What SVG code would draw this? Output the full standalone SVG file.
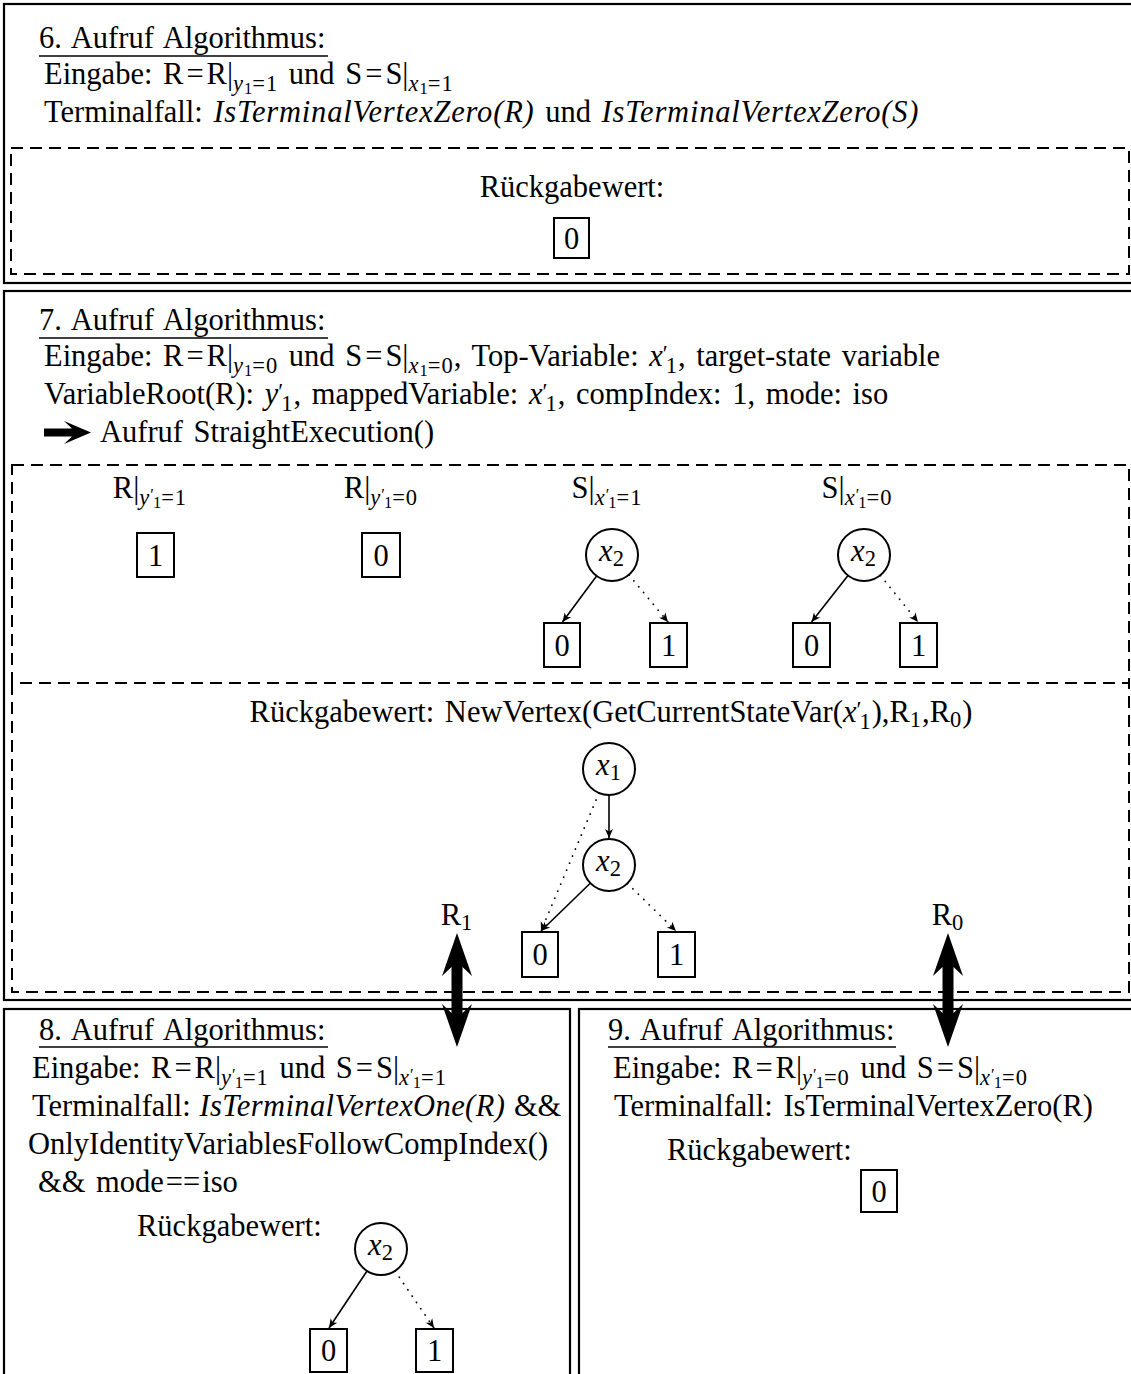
<svg xmlns="http://www.w3.org/2000/svg" width="1131" height="1374" viewBox="0 0 1131 1374">
  <style>
    .t { font-family: "Liberation Serif", "Times New Roman", serif; font-size: 30.5px; word-spacing: 3px; fill: #000; }
    .i { font-style: italic; }
    .il { font-style: italic; letter-spacing: 0.8px; }
    .s { font-size: 22.5px; letter-spacing: 1px; }
    .ss { font-size: 16.5px; }
    .frame { fill: none; stroke: #000; stroke-width: 2.2; }
    .dash { fill: none; stroke: #000; stroke-width: 2; stroke-dasharray: 12 7; }
    .vx { fill: #fff; stroke: #000; stroke-width: 2; }
    .term { fill: #fff; stroke: #000; stroke-width: 2; }
    .ul { stroke: #000; stroke-width: 1.6; }
    .hi { fill: none; stroke: #000; stroke-width: 1.6; marker-end: url(#ah); }
    .lo { fill: none; stroke: #000; stroke-width: 1.8; stroke-dasharray: 0.1 7.5; stroke-linecap: round; marker-end: url(#ah); }
    .big { fill: #000; stroke: none; }
  </style>
  <defs>
    <marker id="ah" viewBox="-10 -5 12 10" refX="0" refY="0" markerWidth="12" markerHeight="10" markerUnits="userSpaceOnUse" orient="auto">
      <path d="M-9,-4 L0,0 L-9,4 L-6.5,0 Z" fill="#000"/>
    </marker>
  </defs>
  <rect width="1131" height="1374" fill="#fff"/>

  <!-- call 6 -->
  <g id="call6">
    <rect class="frame" x="4" y="4" width="1140" height="279"/>
    <text class="t" x="39" y="48">6. Aufruf Algorithmus:</text>
    <line class="ul" x1="39" y1="56" x2="328" y2="56"/>
    <text class="t" x="44" y="84">Eingabe: R<tspan dx="3">=</tspan><tspan dx="3">R|</tspan><tspan class="s i" dy="7">y</tspan><tspan class="ss" dy="3">1</tspan><tspan class="s" dy="-3">=1</tspan><tspan dy="-7"> und S</tspan><tspan dx="3">=</tspan><tspan dx="3">S|</tspan><tspan class="s i" dy="7">x</tspan><tspan class="ss" dy="3">1</tspan><tspan class="s" dy="-3">=1</tspan></text>
    <text class="t" x="44" y="122">Terminalfall: <tspan class="il">IsTerminalVertexZero(R)</tspan> und <tspan class="il">IsTerminalVertexZero(S)</tspan></text>
    <rect class="dash" x="11" y="148" width="1118" height="126"/>
    <text class="t" x="572" y="197" text-anchor="middle">Rückgabewert:</text>
  </g>
  <g id="c6_t0">
    <rect class="term" x="554" y="218" width="35" height="40"/>
    <text class="t" x="571.5" y="249" text-anchor="middle">0</text>
  </g>

  <!-- call 7 -->
  <g id="call7">
    <rect class="frame" x="4" y="291" width="1140" height="709"/>
    <text class="t" x="39" y="330">7. Aufruf Algorithmus:</text>
    <line class="ul" x1="39" y1="338" x2="328" y2="338"/>
    <text class="t" x="44" y="366">Eingabe: R<tspan dx="3">=</tspan><tspan dx="3">R|</tspan><tspan class="s i" dy="7">y</tspan><tspan class="ss" dy="3">1</tspan><tspan class="s" dy="-3">=0</tspan><tspan dy="-7"> und S</tspan><tspan dx="3">=</tspan><tspan dx="3">S|</tspan><tspan class="s i" dy="7">x</tspan><tspan class="ss" dy="3">1</tspan><tspan class="s" dy="-3">=0</tspan><tspan dy="-7">, Top-Variable: </tspan><tspan class="i">x</tspan><tspan class="s" dy="-5">′</tspan><tspan class="s" dx="-3" dy="12">1</tspan><tspan dy="-7">, target-state variable</tspan></text>
    <text class="t" x="44" y="404">VariableRoot(R): <tspan class="i">y</tspan><tspan class="s" dy="-5">′</tspan><tspan class="s" dx="-3" dy="12">1</tspan><tspan dy="-7">, mappedVariable: </tspan><tspan class="i">x</tspan><tspan class="s" dy="-5">′</tspan><tspan class="s" dx="-3" dy="12">1</tspan><tspan dy="-7">, compIndex: 1, mode: iso</tspan></text>
    <path class="big" d="M44,428.5 L72,428.5 L64,421 L91,432.5 L64,444 L72,436.5 L44,436.5 Z"/>
    <text class="t" x="100" y="442">Aufruf StraightExecution()</text>

    <!-- cofactor panel -->
    <rect class="dash" x="12" y="465" width="1117" height="218"/>
    <text class="t" x="150" y="498" text-anchor="middle">R|<tspan class="s i" dy="7">y</tspan><tspan class="ss" dy="-5">′</tspan><tspan class="ss" dx="-1" dy="8">1</tspan><tspan class="s" dy="-3">=1</tspan></text>
    <text class="t" x="381" y="498" text-anchor="middle">R|<tspan class="s i" dy="7">y</tspan><tspan class="ss" dy="-5">′</tspan><tspan class="ss" dx="-1" dy="8">1</tspan><tspan class="s" dy="-3">=0</tspan></text>
    <text class="t" x="607" y="498" text-anchor="middle">S|<tspan class="s i" dy="7">x</tspan><tspan class="ss" dy="-5">′</tspan><tspan class="ss" dx="-1" dy="8">1</tspan><tspan class="s" dy="-3">=1</tspan></text>
    <text class="t" x="857" y="498" text-anchor="middle">S|<tspan class="s i" dy="7">x</tspan><tspan class="ss" dy="-5">′</tspan><tspan class="ss" dx="-1" dy="8">1</tspan><tspan class="s" dy="-3">=0</tspan></text>

    <!-- result panel (top edge shared with the cofactor panel) -->
    <path class="dash" d="M12,683 L12,992 L1129,992 L1129,683"/>
    <text class="t" x="611" y="722" text-anchor="middle">Rückgabewert: NewVertex(GetCurrentStateVar(<tspan class="i">x</tspan><tspan class="s" dy="-5">′</tspan><tspan class="s" dx="-3" dy="12">1</tspan><tspan dy="-7">),R</tspan><tspan class="s" dy="5">1</tspan><tspan dy="-5">,R</tspan><tspan class="s" dy="5">0</tspan><tspan dy="-5">)</tspan></text>
    <text class="t" x="457" y="925" text-anchor="middle">R<tspan class="s" dy="5">1</tspan></text>
    <text class="t" x="948" y="925" text-anchor="middle">R<tspan class="s" dy="5">0</tspan></text>
  </g>
  <g id="c7_r1">
    <rect class="term" x="137" y="533" width="37" height="44"/>
    <text class="t" x="155.5" y="565.5" text-anchor="middle">1</text>
  </g>
  <g id="c7_r0">
    <rect class="term" x="362" y="533" width="38" height="44"/>
    <text class="t" x="381" y="565.5" text-anchor="middle">0</text>
  </g>
  <g id="c7_s1_x2">
    <circle class="vx" cx="612" cy="555" r="26"/>
    <text class="t" x="612" y="561" text-anchor="middle"><tspan class="i">x</tspan><tspan class="s" dy="5">2</tspan></text>
  </g>
  <g id="c7_s1_t0">
    <rect class="term" x="544" y="623" width="36" height="44"/>
    <text class="t" x="562" y="655.5" text-anchor="middle">0</text>
  </g>
  <g id="c7_s1_t1">
    <rect class="term" x="650" y="623" width="37" height="44"/>
    <text class="t" x="668.5" y="655.5" text-anchor="middle">1</text>
  </g>
  <g id="c7_s0_x2">
    <circle class="vx" cx="864" cy="555" r="26"/>
    <text class="t" x="864" y="561" text-anchor="middle"><tspan class="i">x</tspan><tspan class="s" dy="5">2</tspan></text>
  </g>
  <g id="c7_s0_t0">
    <rect class="term" x="793" y="623" width="37" height="44"/>
    <text class="t" x="811.5" y="655.5" text-anchor="middle">0</text>
  </g>
  <g id="c7_s0_t1">
    <rect class="term" x="900" y="623" width="37" height="44"/>
    <text class="t" x="918.5" y="655.5" text-anchor="middle">1</text>
  </g>
  <g id="c7_ret_x1">
    <circle class="vx" cx="609" cy="769" r="26"/>
    <text class="t" x="609" y="775" text-anchor="middle"><tspan class="i">x</tspan><tspan class="s" dy="5">1</tspan></text>
  </g>
  <g id="c7_ret_x2">
    <circle class="vx" cx="609" cy="865" r="26"/>
    <text class="t" x="609" y="871" text-anchor="middle"><tspan class="i">x</tspan><tspan class="s" dy="5">2</tspan></text>
  </g>
  <g id="c7_ret_t0">
    <rect class="term" x="522" y="932" width="36" height="45"/>
    <text class="t" x="540" y="965" text-anchor="middle">0</text>
  </g>
  <g id="c7_ret_t1">
    <rect class="term" x="658" y="932" width="37" height="45"/>
    <text class="t" x="676.5" y="965" text-anchor="middle">1</text>
  </g>

  <!-- call 8 -->
  <g id="call8">
    <rect class="frame" x="4" y="1009" width="566" height="380"/>
    <text class="t" x="39" y="1040">8. Aufruf Algorithmus:</text>
    <line class="ul" x1="39" y1="1047" x2="328" y2="1047"/>
    <text class="t" x="32" y="1078">Eingabe: R<tspan dx="3">=</tspan><tspan dx="3">R|</tspan><tspan class="s i" dy="7">y</tspan><tspan class="ss" dy="-5">′</tspan><tspan class="ss" dx="-1" dy="8">1</tspan><tspan class="s" dy="-3">=1</tspan><tspan dy="-7"> und S</tspan><tspan dx="3">=</tspan><tspan dx="3">S|</tspan><tspan class="s i" dy="7">x</tspan><tspan class="ss" dy="-5">′</tspan><tspan class="ss" dx="-1" dy="8">1</tspan><tspan class="s" dy="-3">=1</tspan></text>
    <text class="t" x="32" y="1116" style="word-spacing:1px">Terminalfall: <tspan class="i" style="letter-spacing:0.4px">IsTerminalVertexOne(R)</tspan> &amp;&amp;</text>
    <text class="t" x="28" y="1154">OnlyIdentityVariablesFollowCompIndex()</text>
    <text class="t" x="38" y="1192">&amp;&amp; mode<tspan dx="2">==</tspan><tspan dx="2">iso</tspan></text>
    <text class="t" x="137" y="1236">Rückgabewert:</text>
  </g>
  <g id="c8_x2">
    <circle class="vx" cx="381" cy="1249" r="26"/>
    <text class="t" x="381" y="1255" text-anchor="middle"><tspan class="i">x</tspan><tspan class="s" dy="5">2</tspan></text>
  </g>
  <g id="c8_t0">
    <rect class="term" x="310" y="1329" width="37" height="43"/>
    <text class="t" x="328.5" y="1361" text-anchor="middle">0</text>
  </g>
  <g id="c8_t1">
    <rect class="term" x="416" y="1329" width="37" height="43"/>
    <text class="t" x="434.5" y="1361" text-anchor="middle">1</text>
  </g>

  <!-- call 9 -->
  <g id="call9">
    <rect class="frame" x="579" y="1009" width="570" height="380"/>
    <text class="t" x="608" y="1040">9. Aufruf Algorithmus:</text>
    <line class="ul" x1="608" y1="1047" x2="896" y2="1047"/>
    <text class="t" x="613" y="1078">Eingabe: R<tspan dx="3">=</tspan><tspan dx="3">R|</tspan><tspan class="s i" dy="7">y</tspan><tspan class="ss" dy="-5">′</tspan><tspan class="ss" dx="-1" dy="8">1</tspan><tspan class="s" dy="-3">=0</tspan><tspan dy="-7"> und S</tspan><tspan dx="3">=</tspan><tspan dx="3">S|</tspan><tspan class="s i" dy="7">x</tspan><tspan class="ss" dy="-5">′</tspan><tspan class="ss" dx="-1" dy="8">1</tspan><tspan class="s" dy="-3">=0</tspan></text>
    <text class="t" x="614" y="1116">Terminalfall: IsTerminalVertexZero(R)</text>
    <text class="t" x="667" y="1160">Rückgabewert:</text>
  </g>
  <g id="c9_t0">
    <rect class="term" x="861" y="1170" width="36" height="42"/>
    <text class="t" x="879" y="1201.5" text-anchor="middle">0</text>
  </g>

  <!-- edges: solid = high branch, dotted = low branch; thick double arrows link results -->
  <g id="connectors">
    <line class="hi" x1="596.6" y1="576" x2="562.5" y2="622"/>
    <line class="lo" x1="629" y1="575" x2="668" y2="622"/>
    <line class="hi" x1="848" y1="575.5" x2="811.5" y2="622"/>
    <line class="lo" x1="880.5" y1="575.5" x2="918" y2="622"/>

    <line class="hi" x1="609" y1="795" x2="609" y2="838"/>
    <line class="lo" x1="599" y1="793" x2="541" y2="931"/>
    <line class="hi" x1="590.5" y1="883" x2="541" y2="931"/>
    <line class="lo" x1="627.5" y1="883.5" x2="676" y2="931"/>

    <line class="hi" x1="367" y1="1271" x2="329" y2="1328"/>
    <line class="lo" x1="395" y1="1271" x2="434" y2="1328"/>

    <polygon class="big" points="457,933 472,976 462.5,967 462.5,1013 472,1004 457,1047 442,1004 451.5,1013 451.5,967 442,976"/>
    <polygon class="big" points="948,933 963,976 953.5,967 953.5,1013 963,1004 948,1047 933,1004 942.5,1013 942.5,967 933,976"/>
  </g>
</svg>
